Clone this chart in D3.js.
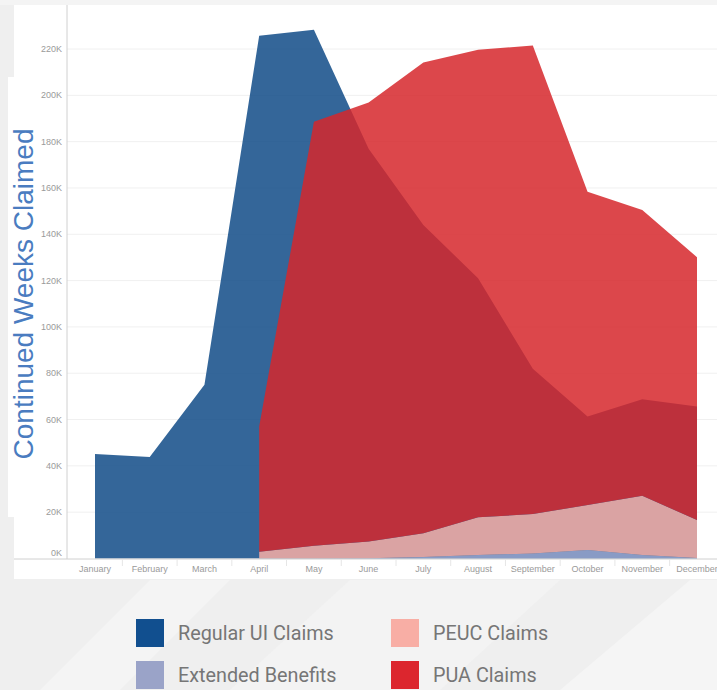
<!DOCTYPE html>
<html>
<head>
<meta charset="utf-8">
<script src="https://cdn.jsdelivr.net/npm/d3@7"></script>
<style>
  html, body { margin: 0; padding: 0; background: #f1f1f1; }
  svg { display: block; }
</style>
</head>
<body>
<svg id="chart" width="717" height="690"></svg>
<script>
// ---- data ----
const months = ["January","February","March","April","May","June","July","August","September","October","November","December"];
const regularUI = [45100, 43800, 75000, 225700, 228300, 176900, 144000, 121000, 81900, 61300, 68800, 65600];
const extendedBenefits = [null, null, null, 0, 0, 100, 600, 1500, 2200, 3700, 1500, 200];
const peucClaims = [null, null, null, 2900, 5500, 7200, 10300, 16300, 17000, 19400, 25600, 16400];
const puaClaims = [null, null, null, 54100, 183100, 189600, 203300, 201900, 202300, 135300, 123400, 113500];
const yTicks = [0, 20000, 40000, 60000, 80000, 100000, 120000, 140000, 160000, 180000, 200000, 220000];
const legendItems = ["Regular UI Claims", "Extended Benefits", "PEUC Claims", "PUA Claims"];
const legendColors = ["#114f8f", "#9aa3c8", "#f8aea5", "#dc262e"];

// ---- styles ----
const fills = { regular: "#114b87", eb: "#99a4cd", peuc: "#f8aea5", pua: "#d6272c" };
const areaOpacity = 0.85;

const svg = d3.select("#chart");

// background
svg.append("rect").attr("width", 717).attr("height", 690).attr("fill", "#efefef");
const bgShapes = [
  { pts: [[40,690],[150,580],[230,580],[120,690]], c: "#f4f4f4" },
  { pts: [[560,690],[690,580],[717,580],[717,690]], c: "#f5f5f5" },
  { pts: [[230,690],[350,580],[560,580],[440,690]], c: "#f3f3f3" },
  { pts: [[0,0],[717,0],[717,5],[0,5]], c: "#f4f4f4" }
];
bgShapes.forEach(s => svg.append("polygon").attr("points", s.pts.map(p => p.join(",")).join(" ")).attr("fill", s.c));

// white panels
svg.append("rect").attr("x", 14).attr("y", 5).attr("width", 703).attr("height", 574).attr("fill", "#ffffff");
svg.append("rect").attr("x", 8).attr("y", 77).attr("width", 60).attr("height", 440).attr("fill", "#ffffff");

// scales
const x = d3.scalePoint().domain(months).range([95, 697]);
const y = d3.scaleLinear().domain([0, 239000]).range([558.5, 5]);

// gridlines
svg.append("g").selectAll("line").data(yTicks.filter(d => d > 0)).join("line")
  .attr("x1", 67).attr("x2", 717)
  .attr("y1", d => y(d)).attr("y2", d => y(d))
  .attr("stroke", "#f0f0f0").attr("stroke-width", 1);

// regular UI area (from zero)
const rows = months.map((m, i) => ({ month: m, regular: regularUI[i], eb: extendedBenefits[i], peuc: peucClaims[i], pua: puaClaims[i] }));
const areaReg = d3.area().x(d => x(d.month)).y0(y(0)).y1(d => y(d.regular));
svg.append("path").datum(rows).attr("d", areaReg).attr("fill", fills.regular).attr("fill-opacity", areaOpacity);

// stacked federal programs
const fedRows = rows.filter(d => d.pua !== null);
const stack = d3.stack().keys(["eb", "peuc", "pua"]);
const series = stack(fedRows);
const areaStack = d3.area().x(d => x(d.data.month)).y0(d => y(d[0])).y1(d => y(d[1]));
svg.append("g").selectAll("path").data(series).join("path")
  .attr("d", areaStack)
  .attr("fill", s => fills[s.key])
  .attr("fill-opacity", areaOpacity);

// axes
svg.append("line").attr("x1", 67).attr("x2", 67).attr("y1", 5).attr("y2", 559).attr("stroke", "#d0d0d0");
svg.append("line").attr("x1", 14).attr("x2", 717).attr("y1", 559).attr("y2", 559).attr("stroke", "#d0d0d0");

// y tick labels
svg.append("g").selectAll("text").data(yTicks).join("text")
  .attr("x", 62).attr("y", d => d === 0 ? y(d) - 6 : y(d))
  .attr("dy", "0.35em")
  .attr("text-anchor", "end")
  .attr("font-family", "Liberation Sans, Arial, sans-serif")
  .attr("font-size", 9).attr("fill", "#9a9a9a")
  .text(d => (d / 1000) + "K");

// x tick dividers
const step = x.step();
svg.append("g").selectAll("line").data(months.slice(0, 11)).join("line")
  .attr("x1", d => x(d) + step / 2).attr("x2", d => x(d) + step / 2)
  .attr("y1", 559).attr("y2", 566)
  .attr("stroke", "#e6e6e6");

// x labels
svg.append("g").selectAll("text").data(months).join("text")
  .attr("x", d => x(d)).attr("y", 572)
  .attr("text-anchor", "middle")
  .attr("font-family", "Liberation Sans, Arial, sans-serif")
  .attr("font-size", 9).attr("fill", "#9a9a9a")
  .text(d => d);

// y axis title
svg.append("text")
  .attr("transform", "translate(33,294) rotate(-90)")
  .attr("text-anchor", "middle")
  .attr("font-family", "Liberation Sans, Arial, sans-serif")
  .attr("font-size", 28).attr("fill", "#4a7cc0")
  .text("Continued Weeks Claimed");

// legend
const legendPos = [[136, 619], [136, 661], [391, 619], [391, 661]];
legendItems.forEach((name, i) => {
  const [lx, ly] = legendPos[i];
  svg.append("rect").attr("x", lx).attr("y", ly).attr("width", 28).attr("height", 28).attr("fill", legendColors[i]);
  svg.append("text").attr("x", lx + 42).attr("y", ly + 21)
    .attr("font-family", "Roboto, sans-serif").attr("font-size", 19.8).attr("fill", "#767676")
    .text(name);
});
</script>
</body>
</html>
